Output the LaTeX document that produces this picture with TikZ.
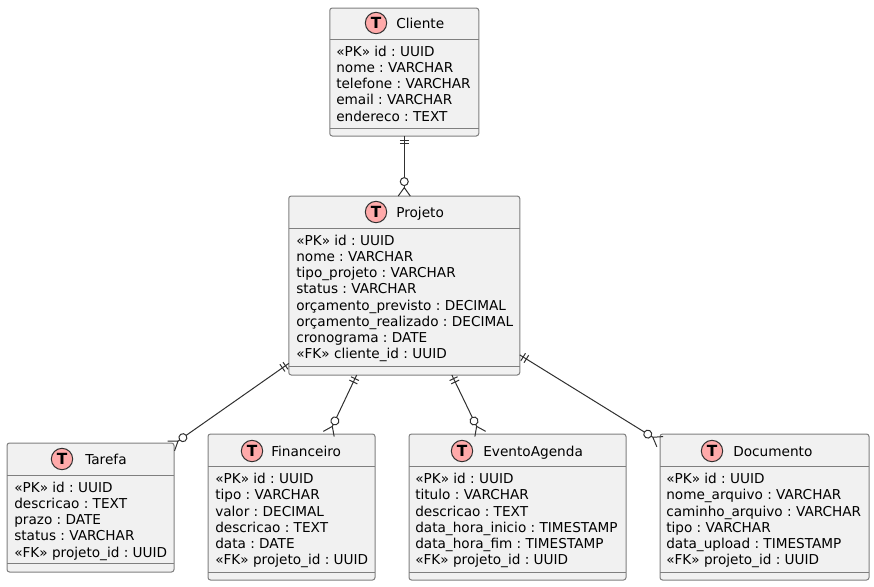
\documentclass[tikz,border=0pt]{standalone}
\usepackage{fontspec}
\setmainfont{DejaVu Sans}
\usetikzlibrary{calc,decorations.markings}
\definecolor{boxfill}{HTML}{F1F1F1}
\definecolor{boxline}{HTML}{7F7F7F}
\definecolor{headfill}{HTML}{FFAAAA}
\definecolor{linkline}{HTML}{303030}

\begin{document}
\frenchspacing
\begin{tikzpicture}[x=0.75pt,y=-0.75pt,
  table node/.style={rectangle,rounded corners=1.9pt,draw=boxline,fill=boxfill,line width=0.75pt,inner sep=0pt,outer sep=0pt},
  sep line/.style={draw=boxline,line width=0.75pt},
  head node/.style={circle,draw=linkline,fill=headfill,line width=0.75pt,minimum size=16pt,inner sep=0pt,font=\bfseries\fontsize{11.5}{12}\selectfont},
  title node/.style={anchor=west,inner sep=0pt,text height=11pt,text depth=2.5pt,font=\fontsize{10.25}{12.2}\selectfont},
  attr node/.style={anchor=north west,align=left,inner sep=0pt,font=\fontsize{10.22}{12.18}\selectfont},
  link/.style={draw=linkline,line width=0.75pt,shorten >=6.3pt,postaction={decorate},decoration={markings,
    mark=at position 3pt with {\draw[draw=linkline,shorten >=0pt] (0,-3.3pt) -- (0,3.3pt);},
    mark=at position 5.8pt with {\draw[draw=linkline,shorten >=0pt] (0,-3.3pt) -- (0,3.3pt);},
    mark=at position -6.3pt with {\draw[draw=linkline,fill=white,shorten >=0pt] (-4.5pt,0) circle (3pt);
      \draw[draw=linkline,shorten >=0pt] (6.3pt,-4.5pt) -- (0,0) -- (6.3pt,4.5pt);}}}]

  \useasboundingbox (0,0) rectangle (874,586);

  \node[table node,minimum width=111.75pt,minimum height=96pt] (cliente) at (404.25,72) {};
  \draw[sep line] (cliente.west |- 0,39.5) -- (cliente.east |- 0,39.5);
  \draw[sep line] (cliente.west |- 0,128) -- (cliente.east |- 0,128);
  \node[head node] (clienteT) at (376,23) {T};
  \node[title node] (clienteN) at (396,23) {Cliente};
  \node[attr node] (clienteA) at (336,45.5) {«PK» id : UUID\\nome : VARCHAR\\telefone : VARCHAR\\email : VARCHAR\\endereco : TEXT};

  \node[table node,minimum width=173.25pt,minimum height=134.25pt] (projeto) at (404.25,285.5) {};
  \draw[sep line] (projeto.west |- 0,228.5) -- (projeto.east |- 0,228.5);
  \draw[sep line] (projeto.west |- 0,366.5) -- (projeto.east |- 0,366.5);
  \node[head node] (projetoT) at (376,212) {T};
  \node[title node] (projetoN) at (396,212) {Projeto};
  \node[attr node] (projetoA) at (296,234.5) {«PK» id : UUID\\nome : VARCHAR\\tipo\_projeto : VARCHAR\\status : VARCHAR\\orçamento\_previsto : DECIMAL\\orçamento\_realizado : DECIMAL\\cronograma : DATE\\«FK» cliente\_id : UUID};

  \node[table node,minimum width=125.25pt,minimum height=96.75pt] (tarefa) at (90.5,507.5) {};
  \draw[sep line] (tarefa.west |- 0,475) -- (tarefa.east |- 0,475);
  \draw[sep line] (tarefa.west |- 0,563.5) -- (tarefa.east |- 0,563.5);
  \node[head node] (tarefaT) at (62,459) {T};
  \node[title node] (tarefaN) at (85,459) {Tarefa};
  \node[attr node] (tarefaA) at (14,481.5) {«PK» id : UUID\\descricao : TEXT\\prazo : DATE\\status : VARCHAR\\«FK» projeto\_id : UUID};

  \node[table node,minimum width=125.25pt,minimum height=109.5pt] (financeiro) at (291.5,507) {};
  \draw[sep line] (financeiro.west |- 0,466.5) -- (financeiro.east |- 0,466.5);
  \draw[sep line] (financeiro.west |- 0,572) -- (financeiro.east |- 0,572);
  \node[head node] (financeiroT) at (252,451) {T};
  \node[title node] (financeiroN) at (271,451) {Financeiro};
  \node[attr node] (financeiroA) at (215,473) {«PK» id : UUID\\tipo : VARCHAR\\valor : DECIMAL\\descricao : TEXT\\data : DATE\\«FK» projeto\_id : UUID};

  \node[table node,minimum width=162.75pt,minimum height=109.5pt] (evento) at (517.5,507) {};
  \draw[sep line] (evento.west |- 0,466.5) -- (evento.east |- 0,466.5);
  \draw[sep line] (evento.west |- 0,572) -- (evento.east |- 0,572);
  \node[head node] (eventoT) at (462,451) {T};
  \node[title node] (eventoN) at (483,451) {EventoAgenda};
  \node[attr node] (eventoA) at (415,473) {«PK» id : UUID\\titulo : VARCHAR\\descricao : TEXT\\data\_hora\_inicio : TIMESTAMP\\data\_hora\_fim : TIMESTAMP\\«FK» projeto\_id : UUID};

  \node[table node,minimum width=156.75pt,minimum height=109.5pt] (documento) at (764.5,507) {};
  \draw[sep line] (documento.west |- 0,466.5) -- (documento.east |- 0,466.5);
  \draw[sep line] (documento.west |- 0,572) -- (documento.east |- 0,572);
  \node[head node] (documentoT) at (712,451) {T};
  \node[title node] (documentoN) at (733,451) {Documento};
  \node[attr node] (documentoA) at (666,473) {«PK» id : UUID\\nome\_arquivo : VARCHAR\\caminho\_arquivo : VARCHAR\\tipo : VARCHAR\\data\_upload : TIMESTAMP\\«FK» projeto\_id : UUID};

  \path[link] (cliente.south) -- (projeto.north);
  \path[link] (projeto.214.9) -- ($(tarefa.north east)+(-3,3)$);
  \path[link] (projeto.242.05) -- (financeiro.63.4);
  \path[link] (projeto.-62.05) -- (evento.117.5);
  \path[link] (projeto.-31.76) -- (documento.148.5);
\end{tikzpicture}
\end{document}
